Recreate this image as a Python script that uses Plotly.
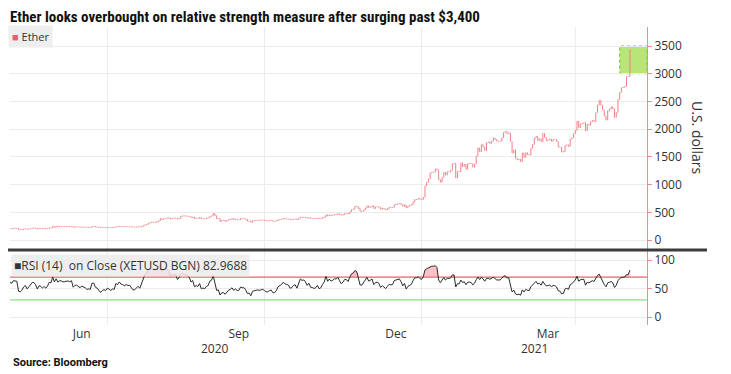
import numpy as np
import pandas as pd
import plotly.graph_objects as go

# ---------------- data: Ether daily closes (USD), starting 2020-04-06 ----------------
start_date = "2020-04-06"
close_2020_04 = [169,164,172,170,158,158,161,156,157,153,171,171,187,180,171,171,182,185,187,194,197,197,196,215,206]
close_2020_05 = [212,214,209,207,206,204,212,212,211,188,186,190,199,203,194,200,207,214,214,209,198,208,206,202,206,202,208,220,219,244,231]
close_2020_06 = [247,237,244,244,241,242,245,245,243,247,231,237,238,234,231,236,234,232,228,229,228,243,244,235,233,229,222,226,228,226]
close_2020_07 = [231,229,226,229,228,241,239,246,242,241,239,242,240,241,238,233,233,236,239,236,245,262,274,279,305,311,321,317,318,334,346]
close_2020_08 = [386,370,386,389,401,394,379,391,390,395,379,391,428,437,433,433,429,423,406,416,389,395,391,408,382,386,382,395,399,428,435]
close_2020_09 = [477,440,383,388,335,353,353,337,351,368,374,387,366,377,364,365,389,384,385,371,341,344,320,348,352,354,357,354,359,360]
close_2020_10 = [353,346,346,352,353,340,341,349,365,370,375,387,381,379,377,366,368,377,379,368,392,414,409,412,406,393,404,388,387,383,386]
close_2020_11 = [396,383,387,402,415,455,435,453,444,450,462,461,475,461,448,460,480,479,471,509,549,560,608,603,568,518,517,538,575,616]
close_2020_12 = [587,598,616,569,596,601,592,554,573,560,545,568,590,586,589,636,643,655,659,639,609,634,583,612,626,635,683,731,731,751,737]
close_2021_01 = [730,774,976,1041,1100,1208,1225,1224,1281,1262,1090,1043,1130,1218,1171,1233,1230,1257,1377,1382,1121,1236,1230,1391,1325,1364,1277,1377,1382,1376,1314]
close_2021_02 = [1370,1515,1660,1594,1719,1677,1614,1752,1769,1744,1784,1843,1814,1782,1781,1783,1848,1937,1960,1919,1935,1781,1570,1626,1475,1446,1459,1417]
close_2021_03 = [1570,1492,1575,1541,1533,1655,1723,1835,1869,1796,1826,1773,1924,1854,1792,1806,1823,1782,1812,1813,1782,1680,1669,1588,1595,1702,1717,1691,1819,1846,1919]
close_2021_04 = [1977,2143,2028,2093,2107,2118,1971,2088,2072,2135,2158,2139,2299,2435,2519,2431,2344,2237,2166,2330,2364,2403,2363,2213,2303,2534,2662,2746,2756,2772]
close_2021_05 = [2945,2950,3431]

rsi_period = 14
rsi_overbought = 70
rsi_oversold = 30
rsi_last_label = "82.9688"

price_ticks = [0, 500, 1000, 1500, 2000, 2500, 3000, 3500]
rsi_ticks = [0, 50, 100]
month_label_dates = ["2020-06-16", "2020-09-16", "2020-12-17", "2021-03-16"]
month_labels = ["Jun", "Sep", "Dec", "Mar"]
quarter_grid_dates = ["2020-07-01", "2020-10-01", "2021-01-01", "2021-04-01"]
year_labels = ["2020", "2021"]
year_label_dates = ["2020-09-02", "2021-03-08"]
x_range = ["2020-05-05", "2021-05-13"]
highlight_x = ["2021-04-27", "2021-05-13"]
highlight_y = [3000, 3500]

# ---------------- derived series ----------------
close = (close_2020_04 + close_2020_05 + close_2020_06 + close_2020_07 + close_2020_08 +
         close_2020_09 + close_2020_10 + close_2020_11 + close_2020_12 + close_2021_01 +
         close_2021_02 + close_2021_03 + close_2021_04 + close_2021_05)
dates = pd.date_range(start_date, periods=len(close), freq="D")
open_ = [close[0]] + close[:-1]
high = [max(o, c) for o, c in zip(open_, close)]
low = [min(o, c) for o, c in zip(open_, close)]

# RSI (Wilder) from closes
c = np.array(close, dtype=float)
d = np.diff(c)
gains = np.where(d > 0, d, 0.0)
losses = np.where(d < 0, -d, 0.0)
rsi = np.full(len(c), np.nan)
ag = gains[:rsi_period].mean()
al = losses[:rsi_period].mean()
rsi[rsi_period] = 100 - 100 / (1 + ag / al) if al > 0 else 100
for i in range(rsi_period, len(d)):
    ag = (ag * (rsi_period - 1) + gains[i]) / rsi_period
    al = (al * (rsi_period - 1) + losses[i]) / rsi_period
    rsi[i + 1] = 100 - 100 / (1 + ag / al) if al > 0 else 100
rsi_above = np.where(np.isnan(rsi), np.nan, np.maximum(rsi, rsi_overbought))
base70 = np.where(np.isnan(rsi), np.nan, rsi_overbought)

# ---------------- geometry (page pixels -> paper); page has an 8px body margin ----------------
OFF = 8
W, H = 731 - OFF, 374 - OFF
PLOT_L, PLOT_R, PLOT_T, PLOT_B = 10, 647, 27, 325   # page pixel edges of plot area
ML, MR = PLOT_L - OFF, (731 - PLOT_R)
MT, MB = PLOT_T - OFF, (374 - PLOT_B)
PW, PH = W - ML - MR, H - MT - MB
def px(x): return (x - PLOT_L) / PW
def py(y): return (PLOT_B - y) / PH

RED = "#ef8088"
AXRED = "#f08c90"
GRID = "#ebebeb"
TXT = "#333333"
FONT = "Open Sans"

fig = go.Figure()
fig.add_trace(go.Ohlc(x=dates, open=open_, high=high, low=low, close=close,
                      increasing=dict(line=dict(color=RED, width=1)),
                      decreasing=dict(line=dict(color=RED, width=1)),
                      tickwidth=0.3, xaxis="x", yaxis="y", showlegend=False,
                      hoverinfo="skip"))
fig.add_trace(go.Scatter(x=dates, y=base70, mode="lines", line=dict(width=0),
                         xaxis="x2", yaxis="y2", showlegend=False, hoverinfo="skip"))
fig.add_trace(go.Scatter(x=dates, y=rsi_above, mode="lines", line=dict(width=0),
                         fill="tonexty", fillcolor="rgba(240,120,130,0.45)",
                         xaxis="x2", yaxis="y2", showlegend=False, hoverinfo="skip"))
fig.add_trace(go.Scatter(x=dates, y=rsi, mode="lines", line=dict(color="#2a2a2a", width=1),
                         xaxis="x2", yaxis="y2", showlegend=False, hoverinfo="skip"))

price_dom = [py(249), 1]
rsi_dom = [0, py(251)]

fig.update_layout(
    width=W, height=H,
    margin=dict(l=ML, r=MR, t=MT, b=MB),
    paper_bgcolor="white", plot_bgcolor="white",
    font=dict(family=FONT, color=TXT, size=12),
    xaxis=dict(domain=[0, 1], anchor="y", range=x_range, showticklabels=False,
               showgrid=False, ticks="", zeroline=False, showline=False,
               rangeslider=dict(visible=False),
               tickmode="array", tickvals=month_label_dates),
    xaxis2=dict(domain=[0, 1], anchor="y2", range=x_range,
                tickmode="array", tickvals=month_label_dates, ticktext=month_labels,
                showgrid=False, ticks="", zeroline=False, showline=False,
                tickfont=dict(size=12, color=TXT),
                rangeslider=dict(visible=False)),
    yaxis=dict(domain=price_dom, anchor="x", side="right", range=[-162, 3843],
               tickmode="array", tickvals=price_ticks, showgrid=True, gridcolor=GRID,
               zeroline=False, showline=True, linecolor=AXRED, linewidth=1,
               ticks="outside", ticklen=4, tickcolor=AXRED, tickfont=dict(size=12, color=TXT)),
    yaxis2=dict(domain=rsi_dom, anchor="x2", side="right", range=[-14, 115.8],
                tickmode="array", tickvals=rsi_ticks, showgrid=True, gridcolor=GRID,
                zeroline=False, showline=True, linecolor=AXRED, linewidth=1,
                ticks="outside", ticklen=4, tickcolor=AXRED, tickfont=dict(size=12, color=TXT)),
)

shapes = []
for gd in quarter_grid_dates:
    shapes.append(dict(type="line", xref="x", yref="paper", x0=gd, x1=gd,
                       y0=price_dom[0], y1=price_dom[1], line=dict(color=GRID, width=1), layer="below"))
    shapes.append(dict(type="line", xref="x2", yref="paper", x0=gd, x1=gd,
                       y0=rsi_dom[0], y1=rsi_dom[1], line=dict(color=GRID, width=1), layer="below"))
shapes += [
    dict(type="rect", xref="x", yref="y", x0=highlight_x[0], x1=highlight_x[1],
         y0=highlight_y[0], y1=highlight_y[1], fillcolor="rgba(165,222,85,0.8)",
         line=dict(color="#7cba2c", width=1, dash="dot"), layer="below"),
    dict(type="line", xref="paper", yref="y2", x0=0, x1=1,
         y0=rsi_overbought, y1=rsi_overbought, line=dict(color="#e8606c", width=1.2), layer="below"),
    dict(type="line", xref="paper", yref="y2", x0=0, x1=1,
         y0=rsi_oversold, y1=rsi_oversold, line=dict(color="#86e086", width=1.2), layer="below"),
    dict(type="line", xref="paper", yref="paper", x0=px(8), x1=px(707),
         y0=py(250), y1=py(250), line=dict(color="#3c3c3c", width=3)),
]
fig.update_layout(shapes=shapes)

ann = [
    dict(text="<b>Ether looks overbought on relative strength measure after surging past $3,400</b>",
         xref="paper", yref="paper", x=px(8), y=py(17.5), xanchor="left", yanchor="middle",
         showarrow=False, font=dict(family="Liberation Sans Narrow, Roboto Condensed, Roboto",
                                    size=15, color="#111111")),
    dict(text="<span style='color:#e8606c'>■</span> Ether", xref="paper", yref="paper",
         x=px(8), y=py(37), xanchor="left", yanchor="middle", showarrow=False,
         bgcolor="#eeeeee", borderpad=3, font=dict(size=11, color=TXT)),
    dict(text="■RSI (14)  on Close (XETUSD BGN) " + rsi_last_label, xref="paper", yref="paper",
         x=px(11), y=py(265), xanchor="left", yanchor="middle", showarrow=False,
         bgcolor="rgba(235,235,235,0.85)", borderpad=2, font=dict(size=12, color=TXT)),
    dict(text="U.S. dollars", xref="paper", yref="paper", x=px(698), y=py(137),
         xanchor="center", yanchor="middle", textangle=90, showarrow=False,
         font=dict(size=14, color=TXT)),
    dict(text="<b>Source: Bloomberg</b>", xref="paper", yref="paper", x=px(11), y=py(362),
         xanchor="left", yanchor="middle", showarrow=False,
         font=dict(family="Roboto", size=11, color="#111111")),
]
for t, dte in zip(year_labels, year_label_dates):
    ann.append(dict(text=t, xref="x2", yref="paper", x=dte, y=py(348), xanchor="center",
                    yanchor="middle", showarrow=False, font=dict(size=12, color=TXT)))
fig.update_layout(annotations=ann)

fig.write_html("out.html")
